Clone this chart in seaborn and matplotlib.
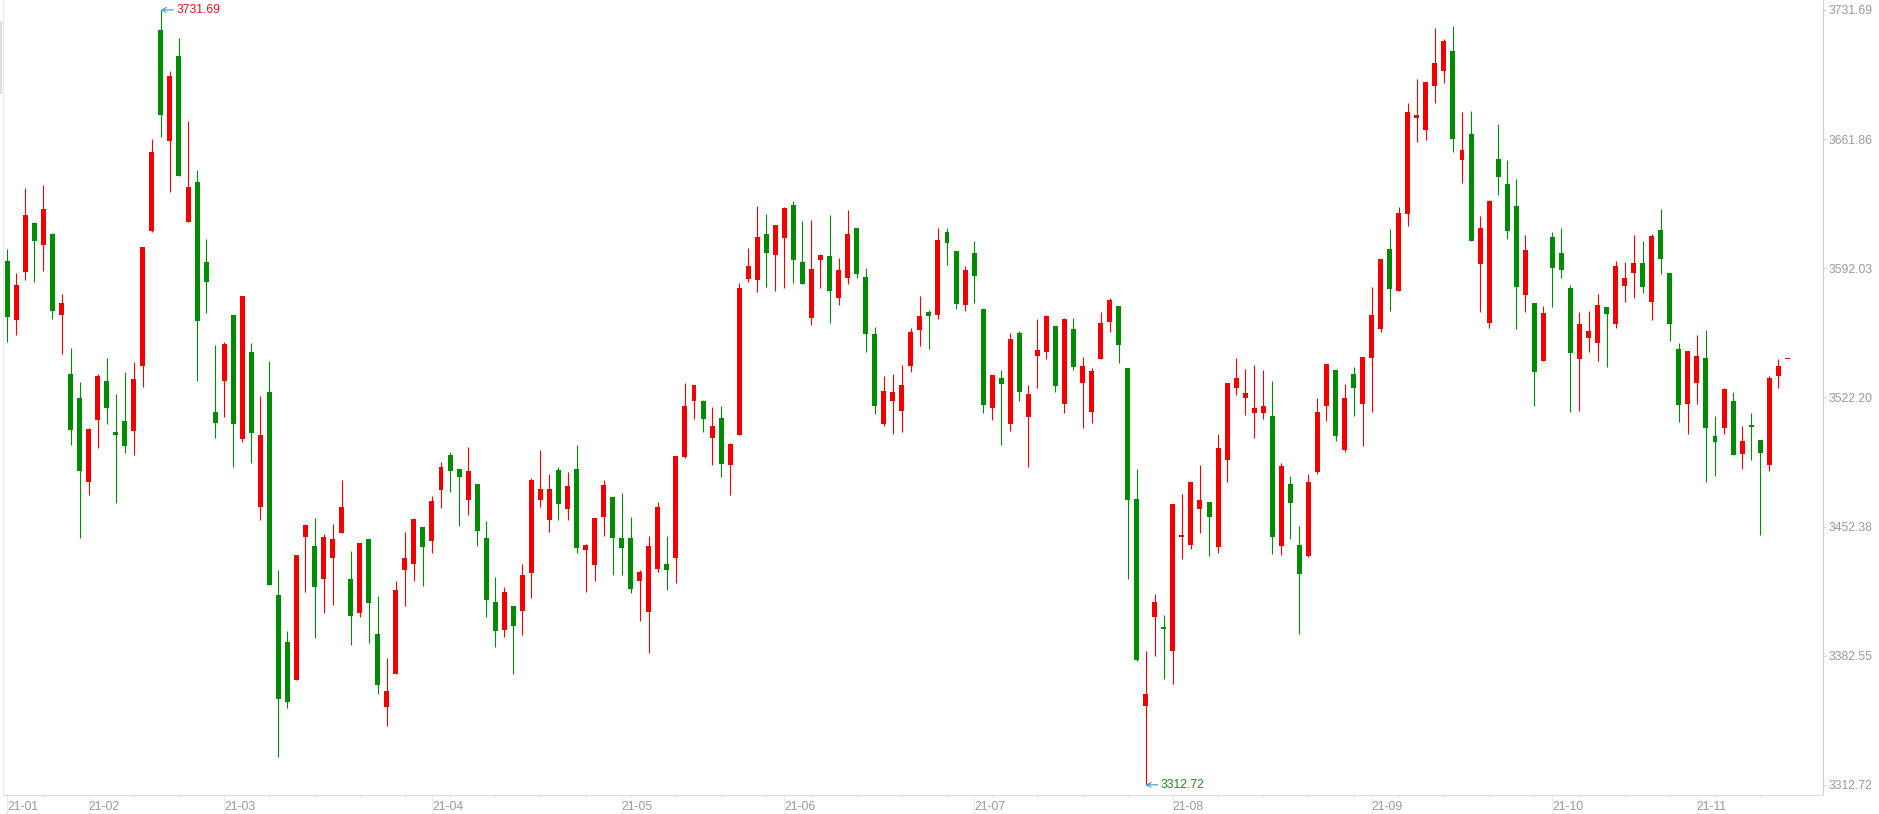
import pandas as pd
import numpy as np
import matplotlib
matplotlib.use("Agg")
import matplotlib.pyplot as plt
import matplotlib.transforms as mtransforms
from matplotlib.patches import Rectangle
import seaborn as sns

# trading calendar (SSE, 2021-01-19 .. 2021-11-15)
holidays = ["2021-02-11", "2021-02-12", "2021-02-15", "2021-02-16", "2021-02-17",
            "2021-04-05", "2021-05-03", "2021-05-04", "2021-05-05", "2021-06-14",
            "2021-09-20", "2021-09-21", "2021-10-01", "2021-10-04", "2021-10-05",
            "2021-10-06", "2021-10-07"]

open_ = [3595.8, 3563.8, 3590.2, 3616.3, 3604.8, 3610.4, 3566.9, 3534.8, 3521.6, 3476.7,
         3510.1, 3530.9, 3503.4, 3509.3, 3504.2, 3539.3, 3612.1, 3720.7, 3660.9, 3706.7,
         3616.8, 3638.5, 3595.2, 3514.1, 3530.9, 3566.6, 3499.5, 3546.6, 3463.0, 3525.0,
         3415.2, 3389.7, 3369.4, 3446.9, 3441.6, 3424.2, 3435.4, 3448.9, 3423.9, 3405.7,
         3445.5, 3394.2, 3354.8, 3372.8, 3429.0, 3432.3, 3452.0, 3444.7, 3472.2, 3491.3,
         3483.5, 3466.9, 3475.3, 3446.1, 3411.3, 3396.4, 3409.3, 3406.8, 3427.3, 3466.9,
         3455.9, 3482.9, 3461.6, 3483.7, 3439.9, 3431.8, 3457.6, 3468.3, 3446.1, 3446.1,
         3423.1, 3406.2, 3429.3, 3432.1, 3435.2, 3489.9, 3520.5, 3520.5, 3500.3, 3511.0,
         3485.7, 3502.0, 3586.2, 3585.4, 3610.4, 3599.4, 3608.1, 3626.1, 3595.2, 3564.9,
         3596.6, 3598.6, 3576.1, 3586.8, 3613.8, 3587.1, 3556.5, 3507.9, 3520.0, 3514.9,
         3539.3, 3558.7, 3568.3, 3566.9, 3611.8, 3601.4, 3572.2, 3600.3, 3569.9, 3516.6,
         3532.9, 3507.9, 3557.0, 3511.8, 3544.7, 3546.9, 3560.7, 3518.8, 3559.0, 3529.8,
         3514.3, 3542.7, 3563.2, 3571.6, 3537.9, 3467.2, 3355.4, 3403.4, 3397.8, 3385.2,
         3446.7, 3442.2, 3461.6, 3465.5, 3441.3, 3488.5, 3527.0, 3521.7, 3513.5, 3513.5,
         3512.1, 3441.9, 3475.3, 3442.2, 3436.6, 3481.8, 3517.7, 3536.8, 3493.8, 3534.8,
         3518.8, 3543.6, 3559.3, 3602.2, 3579.8, 3621.1, 3673.0, 3666.6, 3690.7, 3698.8,
         3709.5, 3650.8, 3664.6, 3594.4, 3562.6, 3651.1, 3637.6, 3625.6, 3577.3, 3573.0,
         3541.6, 3608.7, 3600.3, 3581.2, 3543.0, 3554.5, 3551.7, 3571.1, 3562.1, 3582.6,
         3589.6, 3594.7, 3573.9, 3612.6, 3589.3, 3548.3, 3518.8, 3530.1, 3543.3, 3501.1,
         3505.4, 3520.2, 3491.6, 3507.0, 3498.9, 3485.7, 3534.0, 3542.8]

high = [3602.2, 3589.6, 3635.4, 3616.8, 3636.8, 3611.0, 3578.1, 3548.9, 3530.6, 3505.4,
        3534.8, 3543.3, 3523.9, 3535.7, 3541.3, 3603.4, 3661.8, 3731.69, 3698.6, 3716.5,
        3671.6, 3645.2, 3607.9, 3550.3, 3551.9, 3567.0, 3577.0, 3551.4, 3522.8, 3541.9,
        3428.7, 3396.1, 3436.8, 3453.9, 3457.1, 3448.3, 3453.9, 3477.3, 3439.4, 3443.3,
        3445.5, 3414.7, 3381.5, 3422.8, 3449.5, 3456.8, 3452.0, 3469.1, 3487.1, 3492.4,
        3483.5, 3495.5, 3475.3, 3455.1, 3425.3, 3419.4, 3409.3, 3432.1, 3478.4, 3493.6,
        3480.6, 3484.3, 3481.8, 3496.4, 3443.0, 3456.8, 3477.3, 3468.3, 3470.3, 3457.3,
        3429.0, 3447.5, 3465.5, 3447.5, 3490.5, 3529.8, 3528.7, 3521.0, 3516.9, 3517.4,
        3497.5, 3584.0, 3602.8, 3625.6, 3621.3, 3615.4, 3625.0, 3628.4, 3617.4, 3617.9,
        3599.7, 3620.8, 3597.7, 3623.3, 3613.8, 3592.1, 3560.1, 3533.7, 3534.8, 3539.6,
        3559.6, 3577.0, 3569.7, 3613.8, 3613.8, 3601.4, 3593.3, 3606.7, 3569.9, 3534.3,
        3537.1, 3557.0, 3557.9, 3528.7, 3564.6, 3566.6, 3560.7, 3564.9, 3564.9, 3543.8,
        3537.9, 3568.3, 3575.8, 3571.6, 3537.9, 3483.5, 3384.9, 3415.8, 3404.3, 3464.6,
        3469.7, 3476.7, 3485.4, 3465.5, 3502.3, 3529.8, 3543.3, 3537.4, 3539.6, 3536.8,
        3530.9, 3486.5, 3479.5, 3452.6, 3480.9, 3521.6, 3540.2, 3536.8, 3529.2, 3538.5,
        3543.8, 3581.7, 3596.9, 3613.2, 3625.3, 3681.4, 3694.4, 3692.7, 3721.9, 3716.0,
        3723.0, 3676.4, 3676.9, 3620.2, 3628.9, 3669.9, 3650.5, 3640.2, 3609.8, 3573.0,
        3571.6, 3611.5, 3613.8, 3582.9, 3568.3, 3568.8, 3578.1, 3571.1, 3595.8, 3595.2,
        3609.8, 3606.7, 3610.4, 3623.9, 3589.3, 3551.4, 3547.2, 3555.9, 3558.4, 3512.1,
        3527.3, 3525.0, 3506.5, 3513.8, 3498.9, 3533.7, 3543.0, 3542.8]

low = [3552.3, 3555.9, 3585.4, 3584.6, 3590.4, 3564.3, 3545.8, 3496.4, 3446.4, 3469.4,
       3495.0, 3507.6, 3465.2, 3492.2, 3491.3, 3527.8, 3611.5, 3662.9, 3633.1, 3641.8,
       3616.8, 3530.9, 3567.7, 3500.0, 3511.5, 3484.3, 3498.0, 3486.8, 3455.9, 3420.8,
       3327.9, 3354.3, 3369.4, 3417.2, 3392.2, 3405.7, 3409.9, 3448.9, 3388.5, 3403.7,
       3389.4, 3361.9, 3344.7, 3372.8, 3409.6, 3423.1, 3420.3, 3438.2, 3462.4, 3471.1,
       3452.8, 3458.7, 3441.6, 3403.4, 3387.1, 3392.7, 3372.8, 3393.9, 3413.8, 3463.0,
       3449.5, 3455.9, 3455.9, 3438.2, 3417.2, 3423.1, 3447.5, 3426.2, 3426.2, 3416.6,
       3401.5, 3384.0, 3427.6, 3418.0, 3422.0, 3489.3, 3510.7, 3503.7, 3485.7, 3479.2,
       3469.4, 3502.0, 3584.8, 3578.9, 3582.0, 3579.8, 3581.2, 3584.0, 3583.7, 3561.5,
       3581.2, 3562.6, 3572.2, 3583.7, 3586.5, 3546.9, 3513.2, 3506.7, 3502.6, 3503.7,
       3536.0, 3549.7, 3548.6, 3564.3, 3593.8, 3570.2, 3569.1, 3573.3, 3513.8, 3510.1,
       3496.7, 3504.2, 3520.5, 3484.6, 3527.0, 3542.7, 3525.3, 3513.8, 3536.8, 3505.9,
       3508.4, 3542.7, 3557.6, 3541.0, 3424.2, 3379.5, 3312.72, 3382.4, 3370.0, 3367.2,
       3434.9, 3440.2, 3448.9, 3436.6, 3438.2, 3476.7, 3523.6, 3512.9, 3500.3, 3510.7,
       3437.7, 3437.1, 3445.8, 3394.4, 3436.0, 3480.6, 3509.6, 3498.6, 3492.7, 3512.1,
       3496.1, 3514.3, 3557.3, 3569.1, 3579.8, 3614.6, 3660.4, 3661.5, 3681.2, 3692.4,
       3655.0, 3637.9, 3606.5, 3568.5, 3559.8, 3631.4, 3607.6, 3559.3, 3568.5, 3517.7,
       3541.6, 3571.3, 3586.5, 3514.3, 3514.9, 3546.6, 3542.1, 3538.8, 3559.8, 3573.9,
       3576.1, 3578.4, 3563.8, 3589.0, 3552.5, 3509.0, 3502.6, 3518.8, 3476.7, 3479.8,
       3502.6, 3491.3, 3483.7, 3488.5, 3447.8, 3482.3, 3527.0, 3542.8]

close = [3565.7, 3582.9, 3620.8, 3606.5, 3623.9, 3569.1, 3573.0, 3504.8, 3482.6, 3505.1,
         3533.7, 3516.6, 3501.7, 3496.1, 3532.0, 3603.4, 3654.8, 3674.7, 3696.0, 3641.8,
         3635.9, 3563.5, 3584.6, 3508.2, 3551.1, 3507.6, 3577.0, 3503.1, 3501.7, 3420.8,
         3359.3, 3357.6, 3436.8, 3453.1, 3419.7, 3446.7, 3445.5, 3462.7, 3404.0, 3443.3,
         3411.0, 3366.6, 3363.3, 3418.3, 3435.2, 3456.2, 3441.3, 3466.0, 3484.3, 3482.6,
         3479.2, 3482.3, 3450.0, 3412.7, 3395.8, 3416.9, 3398.6, 3426.4, 3477.3, 3472.5,
         3472.5, 3464.6, 3474.2, 3440.8, 3442.2, 3456.8, 3474.8, 3446.4, 3440.8, 3418.6,
         3427.6, 3441.6, 3462.7, 3429.0, 3490.5, 3517.4, 3528.7, 3510.7, 3506.5, 3486.3,
         3496.9, 3581.2, 3593.3, 3608.7, 3600.3, 3615.4, 3624.4, 3596.6, 3583.7, 3591.6,
         3599.2, 3579.5, 3591.0, 3610.4, 3589.0, 3556.2, 3517.7, 3525.6, 3525.0, 3528.7,
         3557.3, 3566.0, 3566.3, 3607.3, 3605.9, 3572.8, 3590.9, 3587.9, 3518.3, 3534.3,
         3529.5, 3553.7, 3525.3, 3523.9, 3547.8, 3566.0, 3528.1, 3564.6, 3538.8, 3539.0,
         3536.2, 3562.4, 3574.7, 3550.3, 3466.9, 3380.4, 3361.6, 3411.3, 3397.0, 3464.6,
         3447.8, 3476.7, 3466.6, 3457.6, 3494.7, 3529.8, 3532.6, 3524.5, 3516.3, 3517.4,
         3446.9, 3484.9, 3465.2, 3426.7, 3476.7, 3514.1, 3540.2, 3501.4, 3521.6, 3527.5,
         3543.8, 3566.6, 3596.9, 3580.9, 3621.9, 3676.4, 3674.7, 3692.7, 3703.1, 3714.9,
         3662.1, 3655.9, 3606.5, 3613.8, 3628.4, 3641.6, 3612.4, 3582.0, 3601.7, 3536.0,
         3567.7, 3591.9, 3591.3, 3546.4, 3561.8, 3557.9, 3571.9, 3567.4, 3593.3, 3586.5,
         3594.7, 3582.0, 3609.3, 3597.2, 3562.1, 3518.3, 3547.2, 3544.4, 3505.4, 3498.3,
         3526.7, 3491.3, 3498.6, 3506.2, 3492.2, 3532.6, 3539.0, 3542.8]

UP = "#f40000"
DOWN = "#008c00"
GREY = "#9a9a9a"

dates = pd.bdate_range("2021-01-19", "2021-11-15").difference(pd.to_datetime(holidays))
df = pd.DataFrame({"date": dates, "open": open_, "high": high, "low": low, "close": close})
df["x"] = np.arange(len(df))
df["up"] = df["close"] >= df["open"]
df["color"] = np.where(df["up"], UP, DOWN)

sns.set_theme(style="white")
plt.rcParams["font.family"] = ["Liberation Sans", "DejaVu Sans"]

W, H = 1879, 814
fig = plt.figure(figsize=(W / 100, H / 100), dpi=100)
ax = fig.add_axes([2.7 / W, 19 / H, 1820 / W, 795 / H])

# wicks and bodies
ax.vlines(df["x"], df["low"], df["high"], colors=df["color"], linewidth=0.8, zorder=2)
body = (df["close"] - df["open"]).abs().clip(lower=0.6)
ax.bar(df["x"], body, bottom=df[["open", "close"]].min(axis=1), width=0.55,
       color=df["color"], linewidth=0, zorder=3)

ax.set_xlim(-0.51, 200.92)
ax.set_ylim(3307.21, 3737.04)

# y axis on the right
ymin, ymax = min(low), max(high)
yticks = np.linspace(ymin, ymax, 7)
ax.yaxis.tick_right()
ax.set_yticks(yticks, [f"{v:.2f}" for v in yticks])
ax.tick_params(axis="y", right=True, length=2.5, width=0.6, color="#cccccc",
               pad=1.5, labelsize=8.8, labelcolor=GREY)

# x axis: month labels at first trading day of each month
first = df.groupby(df["date"].dt.to_period("M")).head(1)
ax.set_xticks(first["x"], first["date"].dt.strftime("%y-%m"))
for lab in ax.get_xticklabels():
    lab.set_horizontalalignment("left")
ax.tick_params(axis="x", bottom=True, length=0, pad=4.5, labelsize=8.8, labelcolor=GREY)
ax.set_xticks(np.arange(4, len(df), 5), minor=True)
ax.tick_params(axis="x", which="minor", bottom=True, length=2.5, width=0.6, color="#dddddd")
trans = mtransforms.blended_transform_factory(ax.transData, ax.transAxes)
for xi in first["x"]:
    ax.plot([xi, xi], [0, -0.024], transform=trans, color="#d6d6d6", lw=0.7,
            linestyle=(0, (1, 1)), clip_on=False)

sns.despine(ax=ax, top=True, right=False, left=False, bottom=False)
ax.spines["left"].set_color("#e6e6e6")
ax.spines["left"].set_linewidth(0.8)
ax.spines["right"].set_color("#d0d0d0")
ax.spines["right"].set_linestyle((0, (1, 1)))
ax.spines["right"].set_linewidth(0.8)
ax.spines["bottom"].set_color("#dcdcdc")
ax.spines["bottom"].set_linestyle((0, (1, 1)))
ax.spines["bottom"].set_linewidth(0.8)
ax.grid(False)

# max / min markers
imax = int(np.argmax(high))
imin = int(np.argmin(low))
arrow = dict(arrowstyle="->,head_length=0.35,head_width=0.2", color="#3b9ac6",
             lw=0.8, shrinkA=0, shrinkB=0)
ax.annotate(f"{high[imax]:.2f}", xy=(imax, high[imax]), xytext=(11.3, 0),
            textcoords="offset points", va="center", ha="left", fontsize=8.8,
            color="#e8101e", arrowprops=arrow, annotation_clip=False)
ax.annotate(f"{low[imin]:.2f}", xy=(imin, low[imin]), xytext=(11, 0),
            textcoords="offset points", va="center", ha="left", fontsize=8.8,
            color="#1f8a1f", arrowprops=arrow, annotation_clip=False)

# small scroll handle at top-left
fig.patches.append(Rectangle((0, (H - 94) / H), 1.8 / W, 73 / H, transform=fig.transFigure,
                             facecolor="#dedede", edgecolor="none"))

fig.savefig("out.png", dpi=100, facecolor="white")
